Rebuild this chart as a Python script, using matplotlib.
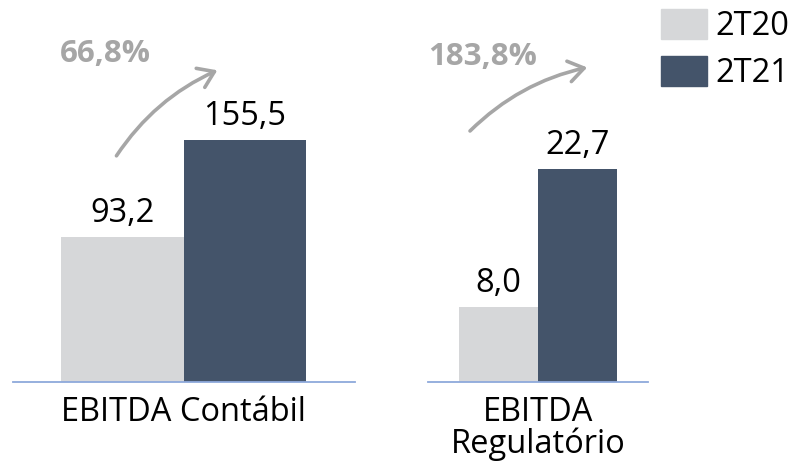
import matplotlib.pyplot as plt
from matplotlib.patches import Patch

plt.rcParams['font.family'] = ['Open Sans', 'DejaVu Sans']

series = ['2T20', '2T21']
categories = ['EBITDA Contábil', 'EBITDA\nRegulatório']
values_2t20 = [93.2, 8.0]
values_2t21 = [155.5, 22.7]
growth = ['66,8%', '183,8%']
colors = ['#D6D7D9', '#44546A']

fig = plt.figure(figsize=(7.97, 4.66), dpi=100)

# one axes per category, each with its own scale
ax_left = fig.add_axes([13 / 797, 84 / 466, 342 / 797, 382 / 466])
ax_right = fig.add_axes([428 / 797, 84 / 466, 220 / 797, 382 / 466])
axes = [ax_left, ax_right]
ytops = [245.5, 40.7]

# arrow start/end and label position in axes fraction
arrows = [((0.298, 0.586), (0.605, 0.819), (0.269, 0.859)),
          ((0.182, 0.652), (0.736, 0.825), (0.25, 0.851))]

for i, ax in enumerate(axes):
    vals = [values_2t20[i], values_2t21[i]]
    bars = ax.bar([0, 1], vals, width=1.0, color=colors)
    for b, v in zip(bars, vals):
        ax.annotate(f'{v:.1f}'.replace('.', ','), (b.get_x() + b.get_width() / 2, v),
                    xytext=(0, 5), textcoords='offset points', ha='center', va='bottom',
                    fontsize=23.5, color='black')
    ax.set_xlim(-0.894, 1.898)
    ax.set_ylim(0, ytops[i])
    ax.set_xticks([0.5])
    ax.set_xticklabels([categories[i]], fontsize=23.5, linespacing=0.95)
    ax.tick_params(axis='x', length=0, pad=10)
    ax.set_yticks([])
    for s in ['top', 'left', 'right']:
        ax.spines[s].set_visible(False)
    ax.spines['bottom'].set_color('#8EA9DB')
    ax.spines['bottom'].set_linewidth(1.3)
    ax.patch.set_alpha(0)

    start, end, lab = arrows[i]
    ax.annotate('', xy=end, xytext=start, xycoords='axes fraction', textcoords='axes fraction',
                arrowprops=dict(arrowstyle='->,head_length=1.1,head_width=0.75', color='#A6A6A6',
                                lw=2.6, connectionstyle='arc3,rad=-0.15'))
    ax.text(lab[0], lab[1], growth[i], transform=ax.transAxes, ha='center', va='center',
            fontsize=22.5, fontweight='bold', color='#A6A6A6')

handles = [Patch(color=c) for c in colors]
fig.legend(handles, series, loc='upper left', bbox_to_anchor=(661 / 797, 1 - 9 / 466),
           frameon=False, fontsize=23.5, handlelength=1.41, handleheight=1.04,
           handletextpad=0.25, labelspacing=0.38, borderpad=0, borderaxespad=0)

fig.savefig('out.png', dpi=100)
